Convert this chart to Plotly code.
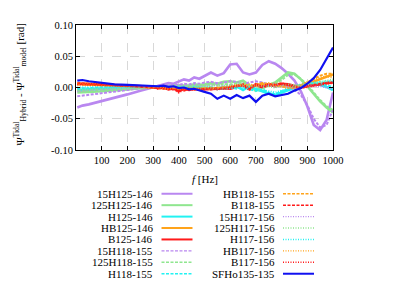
import plotly.graph_objects as go

freq = [5, 25, 50, 100, 150, 200, 250, 300, 320, 340, 360, 380, 400, 420, 440, 460, 480,
        500, 525, 550, 575, 600, 625, 650, 675, 700, 725, 750, 775, 800, 825, 850, 875,
        900, 925, 950, 975, 1000]

names = ["15H125-146", "125H125-146", "H125-146", "HB125-146", "B125-146",
         "15H118-155", "125H118-155", "H118-155", "HB118-155", "B118-155",
         "15H117-156", "125H117-156", "H117-156", "HB117-156", "B117-156",
         "SFHo135-135"]

purple_125 = [-0.032, -0.029, -0.027, -0.022, -0.017, -0.011, -0.005, 0.000, 0.002, 0.004, 0.007, 0.006, 0.010, 0.013, 0.011, 0.016, 0.014,
              0.019, 0.024, 0.019, 0.023, 0.037, 0.038, 0.024, 0.021, 0.024, 0.036, 0.042, 0.038, 0.031, 0.022, 0.011, -0.006,
              -0.030, -0.060, -0.068, -0.052, -0.008]
green_125 = [-0.008, -0.008, -0.007, -0.006, -0.005, -0.003, -0.001, 0.000, 0.001, 0.002, 0.002, 0.003, 0.003, 0.004, 0.003, 0.005, 0.004,
             0.005, 0.007, 0.006, 0.009, 0.010, 0.008, 0.011, 0.004, -0.004, 0.002, 0.004, 0.008, 0.016, 0.024, 0.022, 0.013,
             0.002, -0.010, -0.022, -0.032, -0.040]
cyan_125 = [-0.004, -0.004, -0.003, -0.002, -0.001, 0.000, 0.001, 0.001, 0.002, 0.001, 0.002, 0.001, 0.002, 0.001, 0.000, 0.001, 0.000,
            -0.001, 0.000, -0.002, 0.001, -0.001, 0.002, -0.004, 0.002, -0.003, -0.006, -0.010, -0.012, -0.008, -0.004, 0.000, 0.003,
            0.005, 0.006, 0.004, 0.001, -0.004]
orange_125 = [0.006, 0.006, 0.005, 0.004, 0.003, 0.003, 0.002, 0.001, 0.000, -0.001, 0.000, -0.002, -0.001, -0.002, -0.001, -0.002, -0.001,
              -0.002, -0.001, -0.002, 0.000, -0.001, 0.002, 0.004, 0.001, 0.003, 0.006, 0.004, 0.006, 0.005, 0.002, 0.000, 0.002,
              0.006, 0.010, 0.014, 0.018, 0.021]
red_125 = [0.006, 0.006, 0.006, 0.005, 0.004, 0.003, 0.002, 0.001, -0.001, 0.000, -0.003, -0.001, -0.006, -0.002, -0.004, -0.002, -0.003,
           -0.003, -0.002, -0.002, -0.001, -0.002, 0.001, 0.004, -0.003, 0.005, 0.000, 0.004, 0.002, 0.006, 0.005, 0.003, 0.000,
           0.002, 0.004, 0.006, 0.007, 0.008]

purple_118 = [-0.014, -0.013, -0.012, -0.010, -0.007, -0.004, -0.001, 0.002, 0.003, 0.004, 0.003, 0.005, 0.004, 0.006, 0.005, 0.007, 0.006,
              0.008, 0.009, 0.007, 0.008, 0.010, 0.009, 0.006, 0.008, 0.010, 0.008, 0.005, 0.006, 0.004, 0.001, -0.003, -0.012,
              -0.028, -0.050, -0.064, -0.060, -0.035]
green_118 = [-0.006, -0.006, -0.005, -0.004, -0.003, -0.002, -0.001, 0.000, 0.001, 0.001, 0.002, 0.001, 0.002, 0.003, 0.002, 0.003, 0.004,
             0.003, 0.005, 0.004, 0.006, 0.005, 0.007, 0.008, 0.001, -0.006, -0.002, 0.003, 0.006, 0.012, 0.020, 0.021, 0.014,
             0.004, -0.008, -0.020, -0.030, -0.036]
cyan_118 = [-0.002, -0.002, -0.001, 0.000, 0.000, 0.001, 0.001, 0.002, 0.001, 0.002, 0.001, 0.000, 0.001, 0.000, -0.001, 0.000, -0.001,
            0.000, -0.002, 0.000, -0.001, 0.001, -0.002, 0.002, -0.003, -0.005, -0.003, -0.008, -0.011, -0.006, -0.002, 0.001, 0.004,
            0.006, 0.007, 0.006, 0.004, 0.001]
orange_118 = [0.005, 0.005, 0.004, 0.003, 0.003, 0.002, 0.002, 0.001, 0.001, 0.000, -0.001, 0.000, -0.002, -0.001, -0.002, -0.001, -0.002,
              -0.001, -0.002, 0.000, -0.001, 0.001, 0.003, 0.005, 0.002, 0.004, 0.007, 0.005, 0.003, 0.002, 0.000, -0.001, 0.003,
              0.008, 0.014, 0.019, 0.022, 0.022]
red_118 = [0.007, 0.007, 0.006, 0.005, 0.004, 0.003, 0.002, 0.000, 0.001, -0.002, 0.000, -0.004, -0.002, -0.005, -0.002, -0.003, -0.004,
           -0.002, -0.003, -0.001, -0.002, 0.000, 0.002, 0.005, -0.002, 0.004, 0.002, 0.006, 0.004, 0.007, 0.004, 0.002, 0.001,
           0.003, 0.005, 0.007, 0.008, 0.009]

purple_117 = [-0.006, -0.005, -0.004, -0.003, -0.002, -0.001, 0.000, 0.001, 0.002, 0.001, 0.003, 0.002, 0.004, 0.003, 0.002, 0.004, 0.003,
              0.002, 0.003, 0.004, 0.002, 0.003, 0.004, 0.002, 0.003, 0.004, 0.002, 0.003, 0.001, 0.002, 0.001, 0.000, 0.001,
              0.002, 0.003, 0.002, 0.000, -0.002]
green_117 = [-0.004, -0.004, -0.003, -0.002, -0.002, -0.001, 0.000, 0.001, 0.001, 0.002, 0.001, 0.002, 0.002, 0.001, 0.003, 0.002, 0.003,
             0.002, 0.003, 0.004, 0.003, 0.004, 0.003, 0.005, 0.002, 0.001, 0.003, 0.002, 0.000, 0.003, 0.005, 0.004, 0.003,
             0.005, 0.007, 0.009, 0.011, 0.013]
cyan_117 = [0.000, 0.000, 0.001, 0.001, 0.002, 0.002, 0.002, 0.001, 0.002, 0.001, 0.000, 0.001, -0.001, 0.000, -0.001, -0.002, -0.001,
            -0.002, -0.001, -0.003, -0.002, -0.001, 0.000, -0.002, 0.001, -0.002, -0.004, -0.006, -0.008, -0.005, -0.002, 0.002, 0.005,
            0.006, 0.008, 0.009, 0.010, 0.010]
orange_117 = [0.007, 0.007, 0.006, 0.005, 0.004, 0.003, 0.002, 0.001, 0.000, -0.001, -0.002, -0.001, -0.002, -0.003, -0.002, -0.003, -0.002,
              -0.001, -0.002, -0.001, 0.000, 0.002, 0.004, 0.002, 0.005, 0.003, 0.005, 0.007, 0.004, 0.001, -0.001, 0.001, 0.004,
              0.009, 0.013, 0.016, 0.018, 0.016]
red_117 = [0.005, 0.005, 0.005, 0.004, 0.003, 0.002, 0.001, 0.000, -0.002, 0.001, -0.002, -0.003, -0.008, -0.003, -0.002, -0.004, -0.002,
           -0.003, -0.001, -0.003, -0.001, 0.001, 0.003, 0.003, -0.004, 0.006, 0.001, 0.003, 0.005, 0.005, 0.004, 0.001, -0.001,
           0.001, 0.003, 0.004, 0.006, 0.007]

sfho = [0.011, 0.012, 0.010, 0.007, 0.005, 0.0042, 0.0033, 0.0026, 0.002, 0.003, 0.001, 0.002, -0.001, 0.000, -0.003, -0.002, -0.005,
        -0.007, -0.010, -0.018, -0.013, -0.018, -0.012, -0.017, -0.013, -0.023, -0.013, -0.010, -0.014, -0.012, -0.010, -0.005, -0.001,
        0.006, 0.015, 0.028, 0.045, 0.064]

series = [purple_125, green_125, cyan_125, orange_125, red_125,
          purple_118, green_118, cyan_118, orange_118, red_118,
          purple_117, green_117, cyan_117, orange_117, red_117,
          sfho]

x_ticks = [100, 200, 300, 400, 500, 600, 700, 800, 900, 1000]
y_ticks = [-0.10, -0.05, 0.00, 0.05, 0.10]
y_tick_text = ["-0.10", "-0.05", "0.00", "0.05", "0.10"]

colors = ["#b987f0", "#8fe68f", "#22f2f2", "#ffa31a", "#ff1a1a"] * 3 + ["#1010f0"]
dashes = ["solid"] * 5 + ["3px,1.5px"] * 5 + ["1px,1.5px"] * 5 + ["solid"]
widths = [2.6] * 5 + [2.0] * 5 + [2.0] * 5 + [2.2]

FONT = "Liberation Serif, Times New Roman, serif"

fig = go.Figure()
for nm, ys, c, d, w in zip(names, series, colors, dashes, widths):
    fig.add_trace(go.Scatter(x=freq, y=ys, mode="lines", name=nm,
                             line=dict(color=c, dash=d, width=w), showlegend=False))

# page has an 8px body margin: work in page pixels, convert to figure pixels
OFF = 8
W, H = 407 - 2 * OFF, 288 - 2 * OFF
L, T = 76 - OFF, 22 - OFF
R = W - (333 - OFF)
B = H - (150 - OFF)
pw, ph = W - L - R, H - T - B

def px2paper(px, py):
    fx, fy = px - OFF, py - OFF
    return (fx - L) / pw, (H - B - fy) / ph

annotations = []
shapes = []
row0, dy = 194.8, 11.7
for i, (nm, c, d) in enumerate(zip(names, colors, dashes)):
    col = i // 8
    row = i % 8
    py = row0 + row * dy
    tx = 154.5 if col == 0 else 276.5
    lx0, lx1 = (161.5, 192.5) if col == 0 else (283, 314)
    ax, ay = px2paper(tx, py)
    annotations.append(dict(x=ax, y=ay, xref="paper", yref="paper", text=nm,
                            showarrow=False, xanchor="right", yanchor="middle",
                            font=dict(family=FONT, size=11, color="#000")))
    sx0, sy = px2paper(lx0, py)
    sx1, _ = px2paper(lx1, py)
    shapes.append(dict(type="line", xref="paper", yref="paper", x0=sx0, x1=sx1, y0=sy, y1=sy,
                       line=dict(color=c, dash=d, width=2.0 if d == "solid" else 1.4)))

xt, yt = px2paper(204.5, 180)
annotations.append(dict(x=xt, y=yt, xref="paper", yref="paper",
                        text="<i>f</i> [Hz]", showarrow=False, xanchor="center", yanchor="middle",
                        font=dict(family=FONT, size=11, color="#000")))
yx, yy = px2paper(20, 83)
annotations.append(dict(x=yx, y=yy, xref="paper", yref="paper", textangle=-90,
                        text="Ψ<sup>Tidal</sup><sub>Hybrid</sub> - Ψ<sup>Tidal</sup><sub>model</sub> [rad]",
                        showarrow=False, xanchor="center", yanchor="middle",
                        font=dict(family=FONT, size=11, color="#000")))

fig.update_layout(
    width=W, height=H,
    margin=dict(l=L, r=R, t=T, b=B, pad=0),
    paper_bgcolor="white", plot_bgcolor="white",
    showlegend=False,
    annotations=annotations, shapes=shapes,
    font=dict(family=FONT, size=10.5, color="#000"),
)
fig.update_xaxes(range=[0, 1000], tickvals=x_ticks, ticktext=[str(v) for v in x_ticks],
                 showgrid=True, gridcolor="#d8d8d8", griddash="dash", gridwidth=1,
                 zeroline=False, showline=True, linecolor="#000", linewidth=1, mirror="ticks",
                 ticks="inside", ticklen=4, tickcolor="#000",
                 tickfont=dict(family=FONT, size=10.5, color="#000"))
fig.update_yaxes(range=[-0.10, 0.10], tickvals=y_ticks, ticktext=y_tick_text,
                 showgrid=True, gridcolor="#d8d8d8", griddash="dash", gridwidth=1,
                 zeroline=False, showline=True, linecolor="#000", linewidth=1, mirror="ticks",
                 ticks="inside", ticklen=4, tickcolor="#000",
                 tickfont=dict(family=FONT, size=10.5, color="#000"))

fig.write_html("out.html")
